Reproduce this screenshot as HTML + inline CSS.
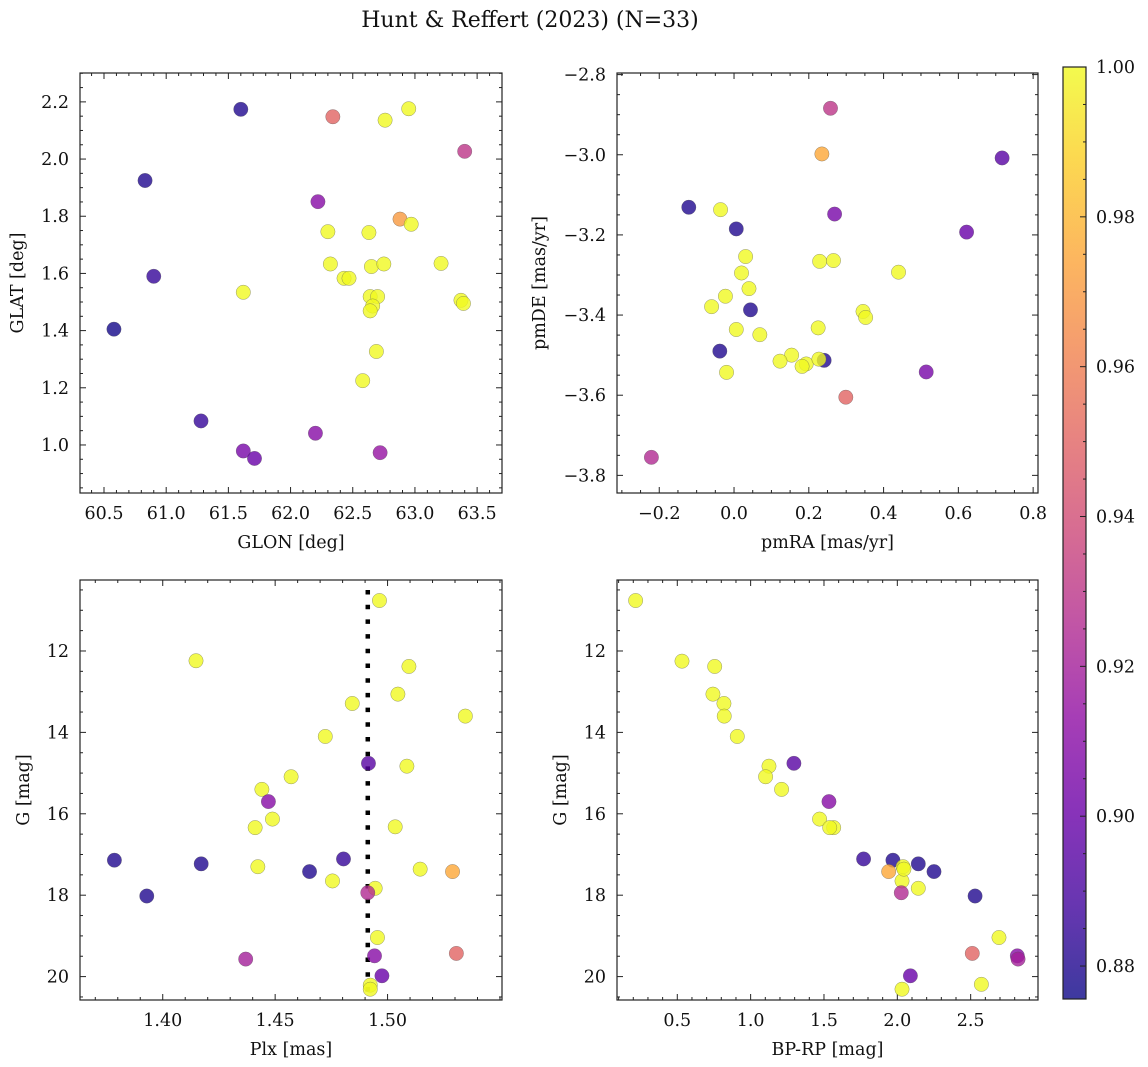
<!DOCTYPE html>
<html><head><meta charset="utf-8">
<style>
html,body{margin:0;padding:0;background:#fff;}
svg{display:block;font-family:"DejaVu Serif","Liberation Serif",serif;}
</style></head>
<body>
<svg id="fig" width="1148" height="1067" viewBox="0 0 1148 1067" xmlns="http://www.w3.org/2000/svg">
<text x="530" y="27" font-size="22" text-anchor="middle" fill="#111">Hunt &amp; Reffert (2023) (N=33)</text>
</svg>
<script>
// ---- Panel 1: GLON vs GLAT ----
const glonX = [61.60,62.34,62.76,62.95,63.40,60.83,62.22,62.88,62.97,62.30,62.63,60.90,62.32,62.65,62.75,63.21,62.43,62.47,61.62,62.64,62.70,62.66,62.64,63.37,63.39,60.58,62.69,62.58,61.28,62.20,61.62,61.71,62.72];
const glatY = [2.174,2.148,2.136,2.176,2.027,1.925,1.851,1.79,1.772,1.746,1.743,1.59,1.633,1.624,1.633,1.635,1.583,1.583,1.534,1.519,1.519,1.486,1.469,1.506,1.495,1.405,1.327,1.225,1.084,1.041,0.979,0.953,0.973];
const glProb = [0.88,0.95,1,1,0.93,0.88,0.91,0.97,1,1,1,0.885,1,1,1,1,1,1,1,1,1,1,1,1,1,0.877,1,1,0.885,0.91,0.905,0.90,0.915];
// ---- Panel 2: pmRA vs pmDE ----
const pmraX = [0.258,0.235,0.717,-0.121,-0.036,0.006,0.269,0.622,0.031,0.229,0.266,0.440,0.020,0.040,-0.023,-0.060,0.044,0.345,0.352,0.006,0.069,0.225,-0.038,0.154,0.123,0.193,0.182,0.241,0.227,-0.020,0.514,0.299,-0.221];
const pmdeY = [-2.884,-2.998,-3.008,-3.131,-3.137,-3.185,-3.148,-3.193,-3.254,-3.266,-3.264,-3.293,-3.295,-3.334,-3.353,-3.379,-3.387,-3.391,-3.406,-3.436,-3.449,-3.432,-3.490,-3.500,-3.515,-3.522,-3.528,-3.513,-3.510,-3.543,-3.542,-3.605,-3.755];
const pmProb = [0.93,0.975,0.895,0.88,1,0.88,0.905,0.90,1,1,1,1,1,1,1,1,0.88,1,1,1,1,1,0.88,1,1,1,1,0.88,1,1,0.905,0.95,0.925];
// ---- Panel 3: Plx vs G ----
const plxX = [1.4964,1.4148,1.5095,1.5046,1.4843,1.5346,1.4723,1.4915,1.5086,1.4571,1.4441,1.4470,1.4488,1.4411,1.5034,1.3785,1.4171,1.4423,1.4804,1.4653,1.4755,1.5145,1.5289,1.4945,1.4912,1.3929,1.4955,1.4369,1.4942,1.5306,1.4975,1.4923,1.4923];
const plxG = [10.76,12.24,12.38,13.06,13.29,13.60,14.10,14.76,14.83,15.09,15.40,15.70,16.13,16.34,16.32,17.14,17.23,17.30,17.11,17.42,17.65,17.36,17.42,17.83,17.94,18.02,19.04,19.57,19.49,19.43,19.98,20.21,20.31];
const plxProb = [1,1,1,1,1,1,1,0.895,1,1,1,0.91,1,1,1,0.88,0.88,1,0.885,0.88,1,1,0.975,1,0.925,0.88,1,0.92,0.91,0.95,0.90,1,1];
const plxRef = [1.4912];
// ---- Panel 4: BP-RP vs G ----
const bprpX = [0.216,0.532,0.755,0.743,0.818,0.820,0.909,1.295,1.125,1.102,1.211,1.534,1.470,1.566,1.539,1.770,1.970,2.143,2.039,2.250,1.941,2.032,2.143,2.027,2.530,2.693,2.511,2.818,2.823,2.089,2.573,2.032,2.045];
const bprpG = [10.76,12.25,12.38,13.06,13.29,13.60,14.10,14.76,14.83,15.09,15.40,15.70,16.13,16.34,16.34,17.11,17.14,17.23,17.30,17.42,17.42,17.65,17.83,17.94,18.02,19.04,19.43,19.49,19.57,19.98,20.19,20.31,17.36];
const bprpProb = [1,1,1,1,1,1,1,0.895,1,1,1,0.91,1,1,1,0.885,0.88,0.88,1,0.88,0.975,1,1,0.925,0.88,1,0.95,0.91,0.92,0.90,1,1,1];
// ---- Tick values ----
const p1XTicks = [60.5,61.0,61.5,62.0,62.5,63.0,63.5];
const p1YTicks = [1.0,1.2,1.4,1.6,1.8,2.0,2.2];
const p2XTicks = [-0.2,0.0,0.2,0.4,0.6,0.8];
const p2YTicks = [-3.8,-3.6,-3.4,-3.2,-3.0,-2.8];
const p3XTicks = [1.40,1.45,1.50];
const gTicks = [12,14,16,18,20];
const p4XTicks = [0.5,1.0,1.5,2.0,2.5];
const cbTicks = [0.88,0.90,0.92,0.94,0.96,0.98,1.00];
const cMin = 0.8756, cMax = 1.0;

const NS = "http://www.w3.org/2000/svg";
const fig = document.getElementById('fig');
const TF = 17.5, LF = 17.5;
const plasma = ["#0d0887","#41049d","#6a00a8","#8f0da4","#b12a90","#cc4778","#e16462","#f2844b","#fca636","#fcce25","#f0f921"];
function hex(h){return [parseInt(h.substr(1,2),16),parseInt(h.substr(3,2),16),parseInt(h.substr(5,2),16)];}
function cmap(v){
  let t=(v-cMin)/(cMax-cMin); t=Math.max(0,Math.min(1,t));
  const s=t*10, i=Math.min(9,Math.floor(s)), f=s-i;
  const a=hex(plasma[i]), b=hex(plasma[i+1]);
  return 'rgb('+a.map((c,k)=>Math.round(c+(b[k]-c)*f)).join(',')+')';
}
function el(tag, attrs, parent){
  const e=document.createElementNS(NS,tag);
  for(const k in attrs) e.setAttribute(k,attrs[k]);
  (parent||fig).appendChild(e); return e;
}
function fmt(v,d){return (v<0?'\u2212':'')+Math.abs(v).toFixed(d);}

function panel(o){
  const g=el('g',{});
  
  
  const sx=v=>o.x0+(v-o.xd[0])/(o.xd[1]-o.xd[0])*(o.x1-o.x0);
  const sy=v=>o.y1-(v-o.yd[0])/(o.yd[1]-o.yd[0])*(o.y1-o.y0);
  const tk=el('g',{stroke:'#222','stroke-width':1},g);
  
  
  const xlo=Math.min(o.xd[0],o.xd[1]), xhi=Math.max(o.xd[0],o.xd[1]);
  const ylo=Math.min(o.yd[0],o.yd[1]), yhi=Math.max(o.yd[0],o.yd[1]);
  for(let v=Math.ceil(xlo/o.xm-1e-6)*o.xm; v<=xhi+1e-9; v+=o.xm){
    const X=sx(v); const major=o.xt.some(t=>Math.abs(t-v)<o.xm/3); const L=major?6:3;
    el('line',{x1:X,x2:X,y1:o.y1,y2:o.y1-L},tk); el('line',{x1:X,x2:X,y1:o.y0,y2:o.y0+L},tk);
  }
  for(let v=Math.ceil(ylo/o.ym-1e-6)*o.ym; v<=yhi+1e-9; v+=o.ym){
    const Y=sy(v); const major=o.yt.some(t=>Math.abs(t-v)<o.ym/3); const L=major?6:3;
    el('line',{x1:o.x0,x2:o.x0+L,y1:Y,y2:Y},tk); el('line',{x1:o.x1,x2:o.x1-L,y1:Y,y2:Y},tk);
  }
  o.xt.forEach(v=>{
    const t=el('text',{x:sx(v),y:o.y1+26,'font-size':TF,'text-anchor':'middle',fill:'#111'},g);
    
    
    t.textContent=fmt(v,o.xdp);
  });
  o.yt.forEach(v=>{
    const t=el('text',{x:o.x0-11,y:sy(v)+6,'font-size':TF,'text-anchor':'end',fill:'#111'},g);
    
    
    t.textContent=fmt(v,o.ydp);
  });
  const xl=el('text',{x:(o.x0+o.x1)/2,y:o.y1+55,'font-size':LF,'text-anchor':'middle',fill:'#111'},g);
  
  
  xl.textContent=o.xlab;
  const yx=o.ylx, yy=(o.y0+o.y1)/2;
  const yl=el('text',{x:yx,y:yy,'font-size':LF,'text-anchor':'middle',fill:'#111',transform:'rotate(-90 '+yx+' '+yy+')'},g);
  
  
  yl.textContent=o.ylab;
  const cid='clip-'+o.name;
  const cp=el('clipPath',{id:cid},g); el('rect',{x:o.x0,y:o.y0,width:o.x1-o.x0,height:o.y1-o.y0},cp);
  const pts=el('g',{'clip-path':'url(#'+cid+')'},g);
  if(o.vline){
    const X=sx(o.vline[0]);
    const ln=el('line',{x1:X,x2:X,y1:o.y0+10,y2:o.y1,stroke:'#000','stroke-width':4.5,'stroke-dasharray':'4.5 10.2'},pts);
    
    
  }
  o.xs.forEach((xv,i)=>{
    const c=el('circle',{cx:sx(xv),cy:sy(o.ys[i]),r:7.2,fill:cmap(o.ps[i]),'fill-opacity':0.8,stroke:'#555','stroke-opacity':0.6,'stroke-width':0.5},pts);
    
    
  });
  const fr=el('rect',{x:o.x0,y:o.y0,width:o.x1-o.x0,height:o.y1-o.y0,fill:'none',stroke:'#222','stroke-width':1.2},g);
  
  
}

panel({name:'glon-glat-panel',x0:80,x1:502,y0:73,y1:493,xd:[60.307,63.70],yd:[0.832,2.301],
  xt:p1XTicks,yt:p1YTicks,xm:0.1,ym:0.05,xdp:1,ydp:1,xlab:'GLON [deg]',ylab:'GLAT [deg]',ylx:23,
  xs:glonX,ys:glatY,ps:glProb});
panel({name:'pm-panel',x0:617,x1:1038,y0:73,y1:493,xd:[-0.313,0.813],yd:[-3.844,-2.796],
  xt:p2XTicks,yt:p2YTicks,xm:0.05,ym:0.05,xdp:1,ydp:1,xlab:'pmRA [mas/yr]',ylab:'pmDE [mas/yr]',ylx:545,
  xs:pmraX,ys:pmdeY,ps:pmProb});
panel({name:'plx-g-panel',x0:80,x1:502,y0:580,y1:1000,xd:[1.3632,1.5509],yd:[20.575,10.256],
  xt:p3XTicks,yt:gTicks,xm:0.01,ym:0.5,xdp:2,ydp:0,xlab:'Plx [mas]',ylab:'G [mag]',ylx:29,
  xs:plxX,ys:plxG,ps:plxProb,vline:plxRef});
panel({name:'cmd-panel',x0:617,x1:1038,y0:580,y1:1000,xd:[0.089,2.959],yd:[20.575,10.256],
  xt:p4XTicks,yt:gTicks,xm:0.1,ym:0.5,xdp:1,ydp:0,xlab:'BP-RP [mag]',ylab:'G [mag]',ylx:566,
  xs:bprpX,ys:bprpG,ps:bprpProb});

(function(){
  const x0=1063,x1=1086,y0=67,y1=999;
  const cb=el('g',{});
  
  
  const defs=el('defs',{},cb);
  const lg=el('linearGradient',{id:'plasmaGrad',x1:0,y1:1,x2:0,y2:0},defs);
  plasma.forEach((c,i)=>el('stop',{offset:(i/10),'stop-color':c,'stop-opacity':0.8},lg));
  el('rect',{x:x0,y:y0,width:x1-x0,height:y1-y0,fill:'url(#plasmaGrad)'},cb);
  const sy=v=>y1-(v-cMin)/(cMax-cMin)*(y1-y0);
  for(let v=0.88; v<=1.0001; v+=0.005){
    const Y=sy(v); const major=cbTicks.some(t=>Math.abs(t-v)<0.001);
    el('line',{x1:x1,x2:x1-(major?6:3),y1:Y,y2:Y,stroke:'#222','stroke-width':1},cb);
  }
  cbTicks.forEach(v=>{
    const t=el('text',{x:x1+10,y:sy(v)+6,'font-size':TF,fill:'#111'},cb);
    
    
    t.textContent=v.toFixed(2);
  });
  el('rect',{x:x0,y:y0,width:x1-x0,height:y1-y0,fill:'none',stroke:'#222','stroke-width':1.2},cb);
})();
</script>
</body></html>
